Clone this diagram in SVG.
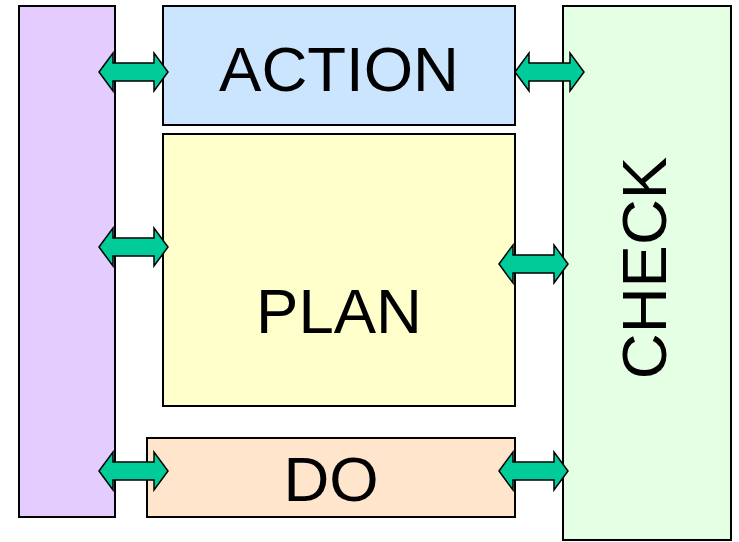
<svg xmlns="http://www.w3.org/2000/svg" width="739" height="542" viewBox="0 0 739 542">
  <style>
    .box { stroke: #000; stroke-width: 2; }
    .label { font-family: "Liberation Sans", Arial, sans-serif; font-size: 63.5px; fill: #000; text-anchor: middle; }
    .arrow { fill: #00CC99; stroke: #000; stroke-width: 1.5; stroke-linejoin: miter; }
  </style>
  <defs>
    <!-- double-headed block arrow, left tip at origin -->
    <path id="dbl" class="arrow" d="M0,0 L14,-19 L14,-9 L55,-9 L55,-19 L69,0 L55,19 L55,9 L14,9 L14,19 Z"/>
  </defs>
  <rect width="739" height="542" fill="#fff"/>

  <g id="side">
    <rect class="box" x="19" y="6" width="96" height="511" fill="#E5CCFF"/>
  </g>
  <g id="action">
    <rect class="box" x="163" y="6" width="352" height="119" fill="#CCE5FF"/>
    <text class="label" x="339" y="91">ACTION</text>
  </g>
  <g id="plan">
    <rect class="box" x="163" y="134" width="352" height="272" fill="#FFFFCC"/>
    <text class="label" x="339" y="333">PLAN</text>
  </g>
  <g id="do">
    <rect class="box" x="147" y="438" width="368" height="79" fill="#FFE5CC"/>
    <text class="label" x="331" y="501">DO</text>
  </g>
  <g id="check">
    <rect class="box" x="563" y="6" width="168" height="534" fill="#E5FFE5"/>
    <text class="label" transform="translate(666,268) rotate(-90)">CHECK</text>
  </g>

  <g id="connectors">
    <use href="#dbl" x="99" y="72"/>
    <use href="#dbl" x="515" y="72"/>
    <use href="#dbl" x="99" y="247"/>
    <use href="#dbl" x="499" y="264"/>
    <use href="#dbl" x="99" y="471"/>
    <use href="#dbl" x="499" y="471"/>
  </g>
</svg>
